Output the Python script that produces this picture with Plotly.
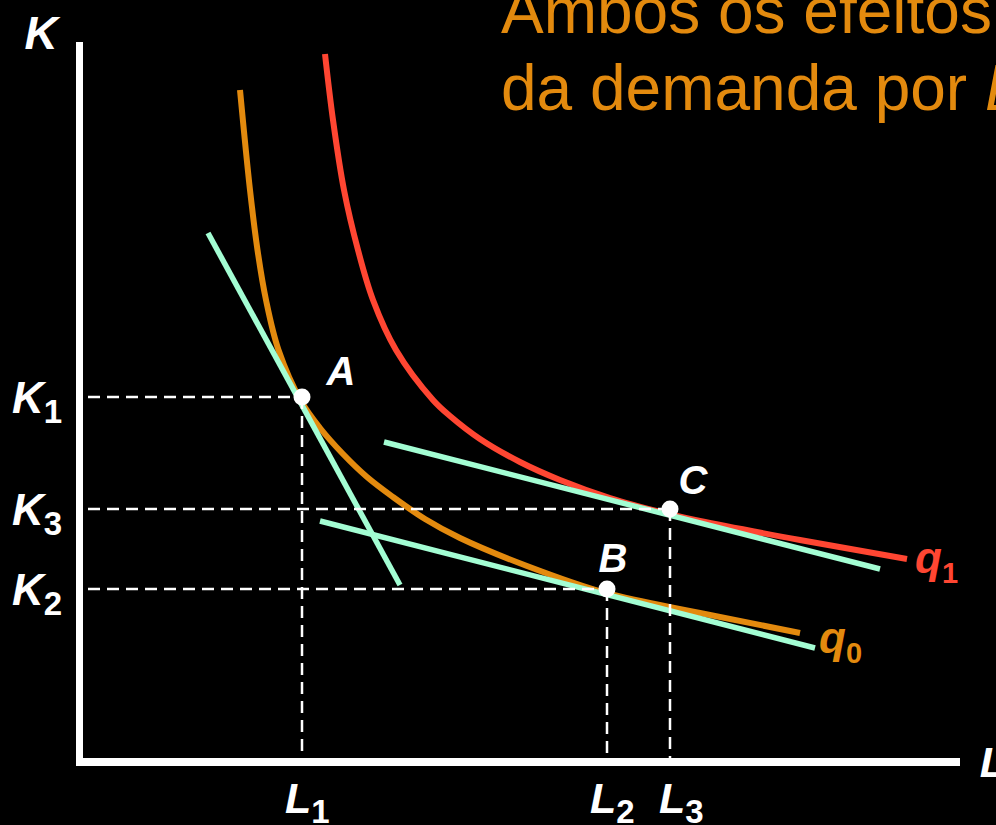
import plotly.graph_objects as go

ORANGE = "#E38A0E"
RED = "#FF4632"
GREEN = "#A3FDD3"
WHITE = "#FFFFFF"
FONT = "Liberation Sans, Arial, sans-serif"

# Isoquant q0 (L, K), sampled along the curve
q0_L = [160, 170, 177.5, 186, 198.5, 221, 240, 263, 287, 313, 345, 380, 447, 526, 620, 720]
q0_K = [672, 572, 512, 462, 412, 361, 334, 308, 285, 265, 243, 224, 196, 169, 149, 129]

# Isoquant q1 (L, K)
q1_L = [245, 253, 264, 278, 293, 316, 353, 370, 400, 440, 480, 530, 589, 620, 720, 827]
q1_K = [708, 642, 572, 512, 462, 412, 362, 346, 323, 300, 282, 264, 248, 241, 222, 203]

# Isocost lines (end points)
iso_A_L = [128, 320]
iso_A_K = [529, 177]
iso_B_L = [240, 735]
iso_B_K = [241, 114]
iso_C_L = [304, 800]
iso_C_K = [320, 193]

# Cost-minimising input bundles
point_names = ["A", "B", "C"]
L_opt = [222, 527, 590]
K_opt = [365, 173, 253]
level_digits = ["1", "2", "3"]

L_AXIS_MAX = 880
K_AXIS_MAX = 720

fig = go.Figure()

# isoquants
fig.add_trace(go.Scatter(x=q0_L, y=q0_K, mode="lines",
                         line=dict(color=ORANGE, width=6, shape="spline", smoothing=1.0)))
fig.add_trace(go.Scatter(x=q1_L, y=q1_K, mode="lines",
                         line=dict(color=RED, width=6, shape="spline", smoothing=1.0)))

# isocost lines
for xs, ys in [(iso_A_L, iso_A_K), (iso_B_L, iso_B_K), (iso_C_L, iso_C_K)]:
    fig.add_trace(go.Scatter(x=xs, y=ys, mode="lines",
                             line=dict(color=GREEN, width=5.5)))

# dashed guides to the axes
for L, K in zip(L_opt, K_opt):
    fig.add_trace(go.Scatter(x=[8, L], y=[K, K], mode="lines",
                             line=dict(color=WHITE, width=2.5, dash="12px,7px")))
    fig.add_trace(go.Scatter(x=[L, L], y=[K, 4], mode="lines",
                             line=dict(color=WHITE, width=2.5, dash="12px,7px")))

# optimum points
fig.add_trace(go.Scatter(x=L_opt, y=K_opt, mode="markers",
                         marker=dict(color=WHITE, size=17, line=dict(width=0))))


def text(x, y, s, size, color=WHITE, bold=True, italic=True, pos="middle center"):
    fig.add_trace(go.Scatter(
        x=[x], y=[y], mode="text", text=[s], textposition=pos,
        textfont=dict(family=FONT, size=size, color=color,
                      weight="bold" if bold else "normal",
                      style="italic" if italic else "normal"),
        cliponaxis=False))


def letter_with_index(x, y, letter, digit, size, dsize, advance, drop, color=WHITE):
    # italic letter followed by an upright subscript digit
    text(x, y, letter, size, color=color, pos="middle right")
    text(x + advance * size, y - drop, digit, dsize, color=color, italic=False,
         pos="middle right")


# point labels
for name, L, K, dx, dy in zip(point_names, L_opt, K_opt, [39, 6, 23], [22, 27, 25]):
    text(L + dx, K + dy, name, 40)

# axis titles
text(-39, 724.5, "K", 46)
text(913, -4, "L", 43)

# K levels on the vertical axis
for K, digit in zip(K_opt, level_digits):
    letter_with_index(-68, K - 5, "K", digit, 44, 33, 0.722, 12.5)

# L levels on the horizontal axis
for L, digit, dx in zip(L_opt, level_digits, [-17, -17, -11]):
    letter_with_index(L + dx, -40, "L", digit, 43, 33, 0.611, 12.75)

# isoquant labels
letter_with_index(835, 200, "q", "1", 44, 29, 0.611, 13.75, color=RED)
letter_with_index(739, 120, "q", "0", 44, 29, 0.611, 13.75, color=ORANGE)

# heading
text(421, 745, "Ambos os efeitos", 64, color=ORANGE, bold=False, italic=False,
     pos="middle right")
text(421, 668, "da demanda por <i>L</i>", 64, color=ORANGE, bold=False, italic=False,
     pos="middle right")

# axes
fig.add_shape(type="line", x0=-0.5, x1=-0.5, y0=-4, y1=K_AXIS_MAX,
              line=dict(color=WHITE, width=7))
fig.add_shape(type="line", x0=-4, x1=L_AXIS_MAX, y0=0, y1=0,
              line=dict(color=WHITE, width=8))

fig.update_layout(
    width=996, height=825, autosize=False,
    margin=dict(l=0, r=0, t=0, b=0, pad=0),
    paper_bgcolor="black", plot_bgcolor="black",
    showlegend=False,
    xaxis=dict(range=[-80, 916], visible=False, fixedrange=True),
    yaxis=dict(range=[-63, 762], visible=False, fixedrange=True),
)

fig.write_html("out.html")
